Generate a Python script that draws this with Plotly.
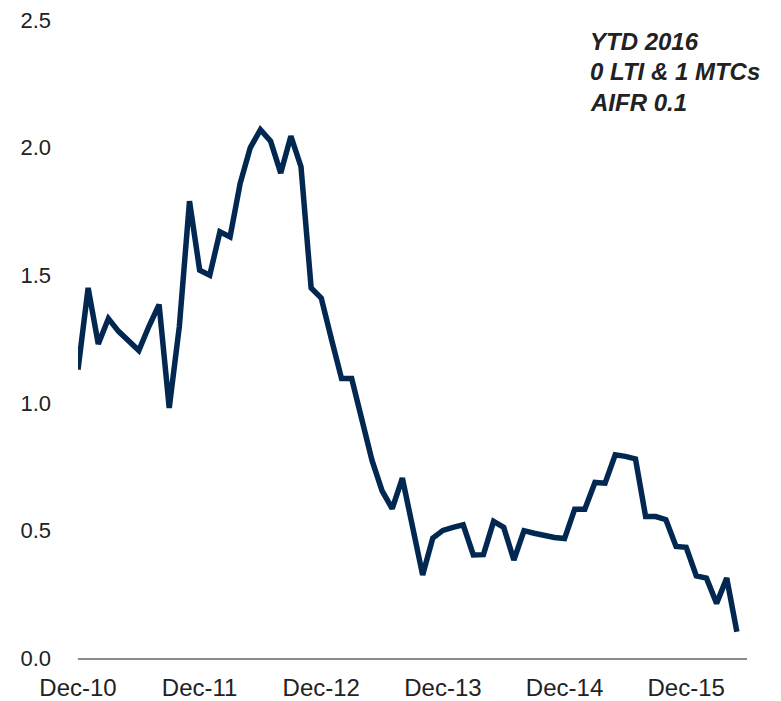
import plotly.graph_objects as go

# Monthly AIFR values, Dec-10 .. May-16
months = list(range(66))
aifr = [1.13, 1.45, 1.23, 1.33, 1.28, 1.245, 1.205, 1.30, 1.385, 0.98,
        1.30, 1.79, 1.52, 1.50, 1.67, 1.65, 1.86, 2.00, 2.07, 2.025,
        1.90, 2.045, 1.925, 1.45, 1.41, 1.25, 1.095, 1.095, 0.94, 0.775,
        0.655, 0.585, 0.705, 0.515, 0.325, 0.47, 0.50, 0.512, 0.522, 0.404,
        0.405, 0.535, 0.512, 0.384, 0.499, 0.489, 0.48, 0.472, 0.468, 0.583,
        0.583, 0.688, 0.685, 0.796, 0.79, 0.78, 0.554, 0.554, 0.542, 0.437,
        0.434, 0.322, 0.313, 0.214, 0.313, 0.103]
tick_pos = [0, 12, 24, 36, 48, 60]
tick_text = ["Dec-10", "Dec-11", "Dec-12", "Dec-13", "Dec-14", "Dec-15"]
y_ticks = [0.0, 0.5, 1.0, 1.5, 2.0, 2.5]
notes = ["YTD 2016", "0 LTI & 1 MTCs", "AIFR 0.1"]

fig = go.Figure()
fig.add_trace(go.Scatter(x=months, y=aifr, mode="lines",
                         line=dict(color="#022851", width=5.5), hoverinfo="skip"))

fam = "Liberation Sans, Arial, sans-serif"
xfont = dict(family=fam, size=24, color="#222222")
yfont = dict(family=fam, size=22, color="#222222")
fig.update_layout(
    width=781, height=701,
    margin=dict(l=78, r=34, t=20, b=43, autoexpand=False),
    paper_bgcolor="white", plot_bgcolor="white",
    showlegend=False,
    font=yfont,
    xaxis=dict(range=[0, 66], tickvals=tick_pos, ticktext=tick_text,
               showgrid=False, zeroline=False, showline=True,
               linecolor="#8c8c8c", linewidth=2, ticks="", automargin=False,
               tickfont=xfont, ticklabelstandoff=7),
    yaxis=dict(range=[0, 2.5], tickvals=y_ticks, tickformat=".1f",
               showgrid=False, zeroline=False, showline=False, ticks="",
               automargin=False, tickfont=yfont, ticklabelstandoff=26),
)
for i, t in enumerate(notes):
    fig.add_annotation(xref="paper", yref="paper",
                       x=(588 - 78) / 669, y=(658 - (42 + 30 * i)) / 638,
                       xanchor="left", yanchor="middle", showarrow=False,
                       text="<b><i>" + t + "</i></b>",
                       font=dict(family=fam, size=24, color="#222222"))

fig.write_html("out.html", config={"displayModeBar": False},
               post_script="document.body.style.margin='0';document.body.style.overflow='hidden';")
